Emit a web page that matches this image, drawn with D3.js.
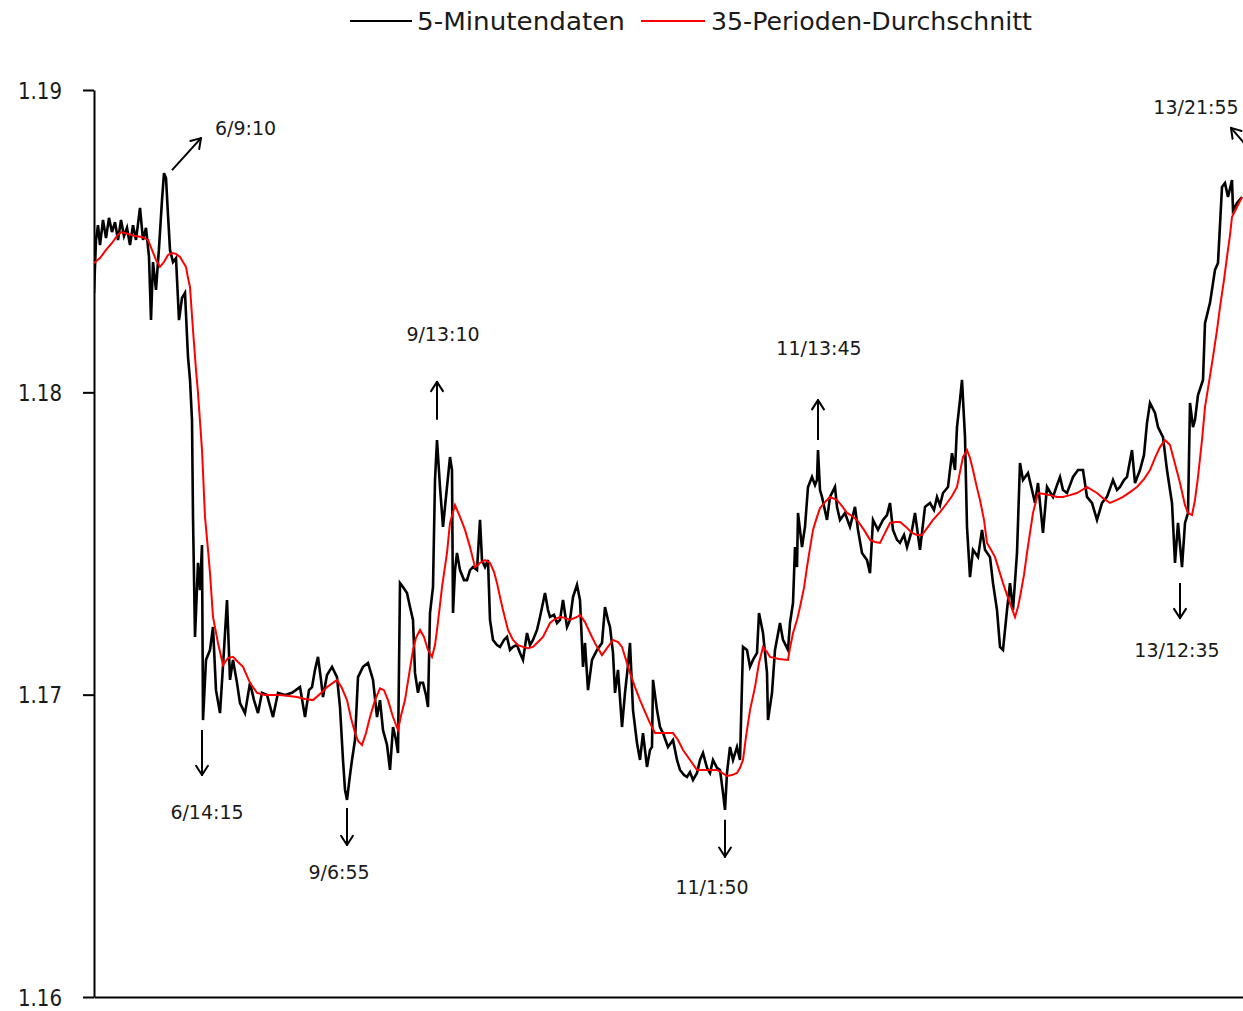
<!DOCTYPE html>
<html>
<head>
<meta charset="utf-8">
<script src="https://cdn.jsdelivr.net/npm/d3@7"></script>
<style>
  html, body { margin: 0; padding: 0; background: #ffffff; }
  svg { display: block; }
  text { font-family: "DejaVu Sans", "Noto Sans", sans-serif; fill: #1a1a1a; }
</style>
</head>
<body>
<svg id="chart" width="1243" height="1011"></svg>
<script>
// ---------------- DATA ----------------
const seriesNames = ["5-Minutendaten", "35-Perioden-Durchschnitt"];
const yTicks = [1.16, 1.17, 1.18, 1.19];
const yTickLabels = ["1.16", "1.17", "1.18", "1.19"];

// 5-minute data: period index and price
const blackPeriods = [
  0,2,4,6,9,12,15,18,21,24,
  27,30,33,36,39,42,46,49,52,55,
  57,59,62,65,68,70,72,74,76,79,
  82,85,88,91,94,96,98,99,101,104,
  106,108,109,112,116,119,122,126,130,133,
  136,139,143,146,151,156,160,164,168,173,
  179,184,191,198,206,211,215,218,221,224,
  227,229,233,238,243,246,249,251,253,256,
  258,261,264,269,274,279,283,286,289,293,
  296,299,302,304,306,309,313,316,319,321,
  324,326,329,332,334,336,339,341,343,346,
  349,353,356,358,359,361,363,366,370,373,
  376,379,383,386,388,391,394,396,399,403,
  406,410,413,416,419,423,426,429,433,436,
  439,443,446,451,454,456,460,463,466,469,
  473,476,479,483,486,489,491,494,498,503,
  508,511,514,516,519,521,524,528,531,534,
  536,539,543,546,549,553,556,558,559,563,
  566,569,574,579,583,586,590,593,596,599,
  603,606,609,613,616,619,623,626,629,631,
  633,636,639,643,646,649,653,656,659,663,
  665,669,673,674,678,681,686,689,694,696,
  699,701,703,704,708,711,714,718,721,723,
  724,726,728,733,736,741,743,746,751,756,
  761,764,768,773,776,779,784,789,793,796,
  799,803,806,810,813,818,821,826,831,836,
  840,843,846,849,854,858,861,863,866,868,
  871,873,876,879,884,888,891,896,899,903,
  906,909,913,916,919,923,926,929,934,938,
  941,944,949,953,959,963,966,969,973,976,
  979,984,989,993,998,1003,1008,1013,1019,1023,
  1026,1030,1033,1038,1041,1046,1050,1053,1056,1061,
  1064,1069,1073,1076,1078,1081,1084,1088,1091,1094,
  1096,1099,1101,1104,1109,1111,1116,1121,1124,1128,
  1131,1134,1138,1139,1143,1148
];
const blackPrices = [
  1.18329,1.18504,1.18553,1.18487,1.18570,1.18510,1.18577,1.18530,1.18563,1.18504,
  1.18570,1.18517,1.18544,1.18487,1.18553,1.18504,1.18610,1.18504,1.18544,1.18448,
  1.18239,1.18431,1.18339,1.18477,1.18636,1.18725,1.18709,1.18587,1.18471,1.18431,
  1.18444,1.18239,1.18312,1.18329,1.18117,1.18041,1.17909,1.17588,1.17191,1.17436,
  1.17346,1.17495,1.16916,1.17115,1.17148,1.17224,1.17015,1.16939,1.17148,1.17313,
  1.17049,1.17115,1.17039,1.16972,1.16939,1.17039,1.16982,1.16939,1.17006,1.16999,
  1.16926,1.17006,1.16999,1.17006,1.17025,1.16926,1.17015,1.17025,1.17082,1.17125,
  1.17049,1.16992,1.17065,1.17092,1.17058,1.16959,1.16784,1.16685,1.16652,1.16734,
  1.16784,1.16850,1.17058,1.17092,1.17105,1.17049,1.16926,1.16982,1.16883,1.16834,
  1.16751,1.16893,1.16850,1.16807,1.17369,1.17356,1.17336,1.17290,1.17247,1.17072,
  1.17006,1.17039,1.17039,1.16999,1.16959,1.17270,1.17356,1.17710,1.17842,1.17687,
  1.17555,1.17687,1.17786,1.17743,1.17270,1.17412,1.17469,1.17412,1.17379,1.17379,
  1.17412,1.17422,1.17412,1.17578,1.17445,1.17422,1.17445,1.17247,1.17181,1.17164,
  1.17158,1.17181,1.17191,1.17148,1.17158,1.17164,1.17138,1.17115,1.17204,1.17164,
  1.17181,1.17214,1.17257,1.17336,1.17280,1.17257,1.17264,1.17237,1.17247,1.17313,
  1.17224,1.17247,1.17323,1.17363,1.17313,1.17092,1.17171,1.17015,1.17115,1.17148,
  1.17171,1.17290,1.17247,1.17224,1.17138,1.17006,1.17082,1.16893,1.17006,1.17098,
  1.17171,1.16949,1.16840,1.16784,1.16873,1.16761,1.16817,1.16827,1.17049,1.16949,
  1.16893,1.16873,1.16827,1.16850,1.16784,1.16751,1.16734,1.16728,1.16744,1.16718,
  1.16741,1.16784,1.16807,1.16758,1.16741,1.16784,1.16758,1.16751,1.16675,1.16619,
  1.16741,1.16827,1.16784,1.16827,1.16784,1.17158,1.17148,1.17092,1.17115,1.17138,
  1.17270,1.17204,1.17072,1.16916,1.17006,1.17148,1.17237,1.17181,1.17148,1.17237,
  1.17303,1.17488,1.17422,1.17601,1.17488,1.17555,1.17687,1.17720,1.17693,1.17710,
  1.17809,1.17677,1.17654,1.17578,1.17654,1.17687,1.17621,1.17578,1.17601,1.17555,
  1.17621,1.17545,1.17469,1.17445,1.17402,1.17578,1.17545,1.17578,1.17594,1.17634,
  1.17545,1.17512,1.17502,1.17528,1.17488,1.17545,1.17601,1.17479,1.17621,1.17634,
  1.17611,1.17654,1.17627,1.17667,1.17687,1.17799,1.17743,1.17885,1.17975,1.18041,
  1.17852,1.17555,1.17389,1.17479,1.17455,1.17545,1.17479,1.17455,1.17369,1.17280,
  1.17158,1.17148,1.17280,1.17369,1.17280,1.17469,1.17766,1.17710,1.17733,1.17677,
  1.17634,1.17700,1.17535,1.17687,1.17654,1.17693,1.17720,1.17677,1.17667,1.17693,
  1.17720,1.17743,1.17743,1.17654,1.17634,1.17578,1.17634,1.17654,1.17710,1.17677,
  1.17687,1.17710,1.17720,1.17809,1.17700,1.17743,1.17793,1.17899,1.17965,1.17932,
  1.17885,1.17852,1.17743,1.17677,1.17634,1.17436,1.17568,1.17422,1.17568,1.17601,
  1.17965,1.17885,1.17909,1.17991,1.18041,1.18229,1.18296,1.18405,1.18428,1.18679,
  1.18692,1.18646,1.18702,1.18603,1.18626,1.18646
];

// 35-period average: period index and price
const avgPeriods = [
  0,6,12,18,23,27,34,41,48,54,
  58,62,66,70,74,78,82,86,89,92,
  94,96,99,102,104,108,111,114,116,119,
  124,129,134,139,144,149,156,163,171,186,
  203,211,219,226,233,243,248,253,257,261,
  264,268,272,276,281,286,290,294,299,304,
  307,311,315,319,322,326,330,334,338,341,
  343,346,348,353,356,361,366,371,376,381,
  384,386,391,396,400,403,406,409,414,419,
  424,429,434,439,444,449,456,461,466,471,
  476,483,486,491,496,502,508,513,519,524,
  528,532,536,541,546,551,556,561,571,579,
  584,589,596,603,613,623,628,633,638,643,
  646,649,652,656,661,665,669,673,676,685,
  694,696,699,703,706,710,713,716,719,723,
  726,731,736,743,748,753,758,763,770,776,
  781,786,791,796,801,806,812,818,823,828,
  834,839,846,853,858,863,866,869,873,876,
  879,883,886,890,893,897,901,905,909,913,
  916,921,924,926,930,933,936,939,944,950,
  956,963,969,976,983,988,993,998,1003,1009,
  1016,1023,1029,1036,1043,1050,1056,1061,1066,1071,
  1076,1080,1086,1091,1094,1098,1101,1104,1108,1111,
  1115,1119,1123,1126,1130,1133,1136,1138,1143,1148
];
const avgPrices = [
  1.18428,1.18444,1.18471,1.18494,1.18517,1.18530,1.18524,1.18517,1.18514,1.18504,
  1.18471,1.18438,1.18415,1.18431,1.18454,1.18461,1.18458,1.18448,1.18431,1.18415,
  1.18378,1.18348,1.18206,1.18074,1.17998,1.17809,1.17588,1.17479,1.17402,1.17257,
  1.17171,1.17098,1.17121,1.17125,1.17108,1.17092,1.17039,1.17006,1.16999,1.16999,
  1.16992,1.16986,1.16982,1.17002,1.17025,1.17049,1.17021,1.16982,1.16923,1.16873,
  1.16847,1.16834,1.16873,1.16926,1.16982,1.17021,1.17015,1.16982,1.16926,1.16883,
  1.16930,1.16982,1.17065,1.17148,1.17188,1.17214,1.17191,1.17148,1.17125,1.17164,
  1.17214,1.17297,1.17356,1.17469,1.17568,1.17627,1.17588,1.17545,1.17488,1.17422,
  1.17429,1.17436,1.17445,1.17436,1.17406,1.17369,1.17323,1.17280,1.17214,1.17181,
  1.17164,1.17158,1.17154,1.17158,1.17174,1.17191,1.17237,1.17250,1.17257,1.17254,
  1.17247,1.17257,1.17264,1.17240,1.17204,1.17164,1.17131,1.17154,1.17181,1.17174,
  1.17158,1.17115,1.17072,1.17025,1.16982,1.16943,1.16906,1.16873,1.16873,1.16873,
  1.16850,1.16817,1.16784,1.16751,1.16751,1.16751,1.16741,1.16731,1.16734,1.16741,
  1.16758,1.16784,1.16860,1.16949,1.17025,1.17105,1.17158,1.17141,1.17125,1.17118,
  1.17115,1.17154,1.17204,1.17247,1.17290,1.17353,1.17422,1.17485,1.17545,1.17588,
  1.17617,1.17637,1.17654,1.17644,1.17624,1.17601,1.17591,1.17578,1.17545,1.17512,
  1.17505,1.17502,1.17535,1.17568,1.17571,1.17571,1.17555,1.17535,1.17528,1.17528,
  1.17555,1.17578,1.17604,1.17634,1.17657,1.17687,1.17737,1.17786,1.17809,1.17783,
  1.17743,1.17684,1.17644,1.17578,1.17502,1.17479,1.17455,1.17412,1.17369,1.17330,
  1.17303,1.17257,1.17290,1.17323,1.17396,1.17469,1.17535,1.17601,1.17667,1.17664,
  1.17660,1.17654,1.17654,1.17660,1.17667,1.17677,1.17687,1.17677,1.17667,1.17650,
  1.17634,1.17644,1.17654,1.17670,1.17687,1.17713,1.17743,1.17783,1.17819,1.17842,
  1.17826,1.17776,1.17700,1.17627,1.17601,1.17594,1.17644,1.17720,1.17842,1.17951,
  1.18034,1.18117,1.18206,1.18282,1.18372,1.18448,1.18520,1.18580,1.18613,1.18646
];

// Annotations: label, period and price where the arrow starts, arrow direction
const annLabels = ["6/9:10", "6/14:15", "9/6:55", "9/13:10", "11/1:50", "11/13:45", "13/12:35", "13/21:55"];
const annPeriods = [78, 108, 253, 343, 631, 724, 1086, 1156];
const annPrices  = [1.18735, 1.16883, 1.16625, 1.17909, 1.16586, 1.17842, 1.17369, 1.18802];
const annDirs    = ["ne", "down", "down", "up", "down", "up", "down", "nw"];

// ---------------- LAYOUT ----------------
const W = 1243, H = 1011;
const margin = { left: 94, right: 0, top: 90, bottom: 14 };
const svg = d3.select("#chart");

const x = d3.scaleLinear().domain([0, 1149]).range([margin.left, W - margin.right]);
const y = d3.scaleLinear().domain([1.16, 1.19]).range([H - margin.bottom, margin.top]);

// Y axis
const yAxis = d3.axisLeft(y).tickValues(yTicks).tickSize(11).tickSizeOuter(0)
  .tickFormat((d, i) => yTickLabels[i]);
const gy = svg.append("g").attr("transform", `translate(${margin.left},0)`).call(yAxis);
gy.select(".domain").attr("stroke", "#000").attr("stroke-width", 2);
gy.selectAll(".tick line").attr("stroke", "#000").attr("stroke-width", 2);
gy.selectAll(".tick text")
  .attr("x", -32).attr("dy", "0.35em")
  .attr("font-size", 23).attr("fill", "#1a1a1a")
  .style("font-family", "'DejaVu Sans', sans-serif")
  .attr("textLength", 44).attr("lengthAdjust", "spacingAndGlyphs");

// X axis (no ticks)
const xAxis = d3.axisBottom(x).tickValues([]).tickSizeOuter(0);
const gx = svg.append("g").attr("transform", `translate(0,${y(1.16)})`).call(xAxis);
gx.select(".domain").attr("stroke", "#000").attr("stroke-width", 2);

// Lines
const blackData = d3.zip(blackPeriods, blackPrices);
const avgData = d3.zip(avgPeriods, avgPrices);
const line = d3.line().x(d => x(d[0])).y(d => y(d[1]));

svg.append("clipPath").attr("id", "plotclip").append("rect")
  .attr("x", margin.left).attr("y", 0).attr("width", W - margin.left).attr("height", y(1.16));

svg.append("path").datum(blackData)
  .attr("clip-path", "url(#plotclip)")
  .attr("fill", "none").attr("stroke", "#000").attr("stroke-width", 2.6)
  .attr("stroke-linejoin", "miter").attr("d", line);

svg.append("path").datum(avgData)
  .attr("clip-path", "url(#plotclip)")
  .attr("fill", "none").attr("stroke", "#ff0000").attr("stroke-width", 2)
  .attr("d", line);

// Annotations (styling / placement offsets in pixels)
const annStyle = {
  "6/9:10":   { dx: 29,  dy: -32, lx: 14,  ly: -3,  anchor: "start" },
  "6/14:15":  { dx: 0,   dy: 45,  lx: 5,   ly: 44,  anchor: "middle" },
  "9/6:55":   { dx: 0,   dy: 37,  lx: -8,  ly: 34,  anchor: "middle" },
  "9/13:10":  { dx: 0,   dy: -38, lx: 6,   ly: -41, anchor: "middle" },
  "11/1:50":  { dx: 0,   dy: 37,  lx: -13, ly: 37,  anchor: "middle" },
  "11/13:45": { dx: 0,   dy: -40, lx: 1,   ly: -45, anchor: "middle" },
  "13/12:35": { dx: 0,   dy: 35,  lx: -3,  ly: 39,  anchor: "middle" },
  "13/21:55": { dx: -19, dy: -22, lx: -35, ly: -14, anchor: "middle" }
};

const gAnn = svg.append("g");
annLabels.forEach((lab, i) => {
  const x0 = x(annPeriods[i]), y0 = y(annPrices[i]);
  const v = annStyle[lab];
  const x1 = x0 + v.dx, y1 = y0 + v.dy;
  const g = gAnn.append("g").attr("clip-path", "url(#plotclip)");
  g.append("line").attr("x1", x0).attr("y1", y0).attr("x2", x1).attr("y2", y1)
    .attr("stroke", "#000").attr("stroke-width", 2);
  const ang = Math.atan2(y1 - y0, x1 - x0);
  const hl = 11, ha = Math.PI / 5.5;
  [ang + Math.PI - ha, ang + Math.PI + ha].forEach(a => {
    g.append("line").attr("x1", x1).attr("y1", y1)
      .attr("x2", x1 + hl * Math.cos(a)).attr("y2", y1 + hl * Math.sin(a))
      .attr("stroke", "#000").attr("stroke-width", 2).attr("stroke-linecap", "round");
  });
  gAnn.append("text").attr("x", x1 + v.lx).attr("y", y1 + v.ly)
    .attr("text-anchor", v.anchor).attr("font-size", 19)
    .attr("fill", "#1a1a1a").text(lab);
});

// Legend
const legend = svg.append("g");
const legendItems = [
  { name: seriesNames[0], color: "#000", x0: 350, x1: 412, tx: 417, tl: 208 },
  { name: seriesNames[1], color: "#ff0000", x0: 641, x1: 705, tx: 711, tl: 321 }
];
legendItems.forEach(it => {
  legend.append("line").attr("x1", it.x0).attr("x2", it.x1).attr("y1", 21).attr("y2", 21)
    .attr("stroke", it.color).attr("stroke-width", 2.2);
  legend.append("text").attr("x", it.tx).attr("y", 30).attr("font-size", 24)
    .attr("fill", "#1a1a1a").attr("textLength", it.tl).attr("lengthAdjust", "spacingAndGlyphs")
    .text(it.name);
});
</script>
</body>
</html>
